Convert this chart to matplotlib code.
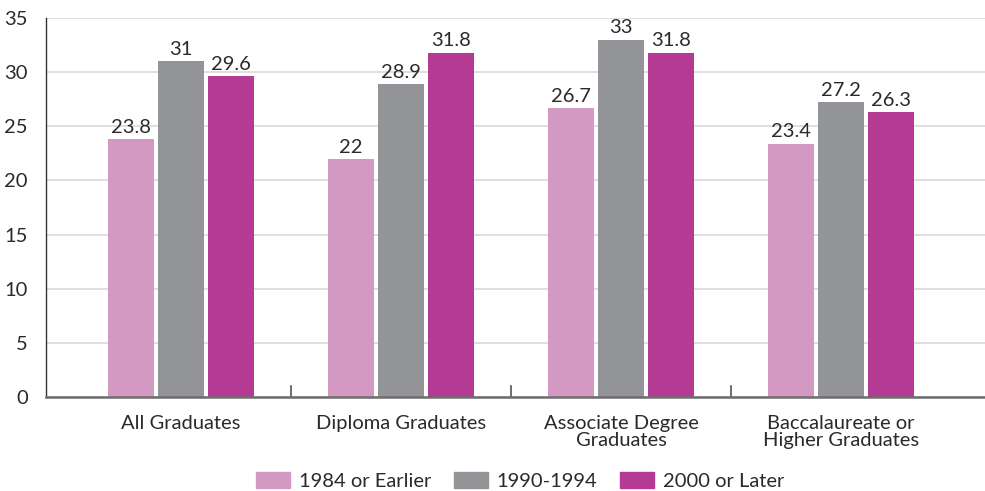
import numpy as np
import matplotlib
matplotlib.use("Agg")
import matplotlib.pyplot as plt
from matplotlib.patches import Patch

plt.rcParams['font.family'] = ['Lato', 'DejaVu Sans']

categories = ["All Graduates", "Diploma Graduates", "Associate Degree\nGraduates",
              "Baccalaureate or\nHigher Graduates"]
series_names = ["1984 or Earlier", "1990-1994", "2000 or Later"]
early = [23.8, 22, 26.7, 23.4]
mid = [31, 28.9, 33, 27.2]
late = [29.6, 31.8, 31.8, 26.3]
colors = ["#D399C3", "#939498", "#B43A93"]
txt = "#2a2a2a"

fig = plt.figure(figsize=(9.85, 4.91), dpi=100)
ax = fig.add_axes([0.0467, 0.1914, 0.9533, 0.7719])

x = np.arange(len(categories))
width = 0.209
step = 0.228
for i, (vals, c) in enumerate(zip([early, mid, late], colors)):
    pos = x + (i - 1) * step
    ax.bar(pos, vals, width, color=c, zorder=2)
    for p, v in zip(pos, vals):
        ax.text(p, v + 0.3, f"{v:g}", ha="center", va="bottom",
                fontsize=14.5, color=txt)

ax.set_ylim(0, 35)
ax.set_xlim(-0.614, 3.655)
ax.set_yticks(range(0, 36, 5))
ax.yaxis.grid(True, color="#d9d9d9", linewidth=1.2, zorder=0)
ax.tick_params(axis="y", length=0, labelsize=14.5, labelcolor=txt, pad=13)

# category labels centred under groups, separator ticks between groups
ax.set_xticks(x)
ax.set_xticklabels(categories, fontsize=14.5, color=txt, linespacing=1.0)
ax.tick_params(axis="x", length=0, pad=13)
for b in x[:-1] + 0.5:
    ax.plot([b, b], [0, 1.0], color="#555555", linewidth=1.2, zorder=3,
            clip_on=False)

for s in ["top", "right"]:
    ax.spines[s].set_visible(False)
ax.spines["left"].set_color("#333333")
ax.spines["left"].set_linewidth(1.0)
ax.spines["bottom"].set_color("#6d6d6d")
ax.spines["bottom"].set_linewidth(1.8)
ax.spines["bottom"].set_zorder(3)

handles = [Patch(color=c) for c in colors]
fig.legend(handles, series_names, loc="lower center", ncol=3, frameon=False,
           fontsize=14.5, bbox_to_anchor=(0.528, -0.035), handlelength=1.7,
           handleheight=0.85, columnspacing=1.1, handletextpad=0.45,
           labelcolor=txt)

fig.savefig("out.png", dpi=100)
